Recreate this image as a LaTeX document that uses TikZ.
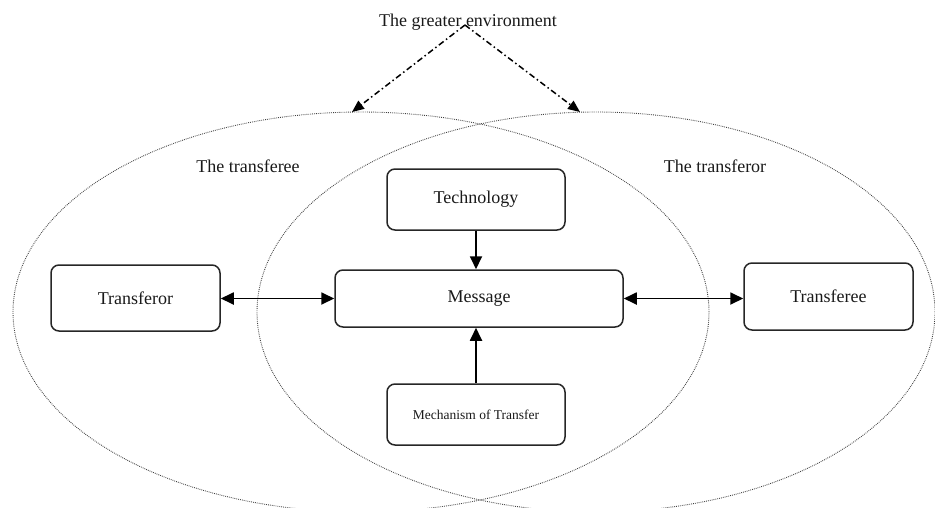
\documentclass[tikz,border=0pt]{standalone}
\usepackage{fontspec}
\setmainfont{Liberation Serif}
\usetikzlibrary{arrows.meta}
\begin{document}
\begin{tikzpicture}[x=1pt,y=-1pt,
  every node/.style={font=\fontsize{18}{20}\selectfont, text=black!90},
  box/.style={draw=black!85, line width=1.5pt, rounded corners=8pt, inner sep=0pt},
  region/.style={draw=black!75, line width=0.9pt, dash pattern=on 0.8pt off 1.1pt},
  tip/.style={},
  link/.style={draw=black, line width=1.8pt, -{Triangle[length=13pt,width=12pt]}},
  biglink/.style={draw=black, line width=1.8pt, {Triangle[length=13pt,width=12pt]}-{Triangle[length=13pt,width=12pt]}},
  envlink/.style={draw=black, line width=1.5pt, dash pattern=on 6pt off 3pt on 1.5pt off 3pt,
    -{Triangle[length=12pt,width=10pt]}}
]
\useasboundingbox (0,0) rectangle (935,507);

% the two overlapping spheres
\draw[region] (361,312) ellipse [x radius=348pt, y radius=200pt];
\draw[region] (596,312) ellipse [x radius=339pt, y radius=200pt];

% labels
\node (env) at (468,22) {The greater environment};
\node (transfereelabel) at (248,166) {The transferee};
\node (transferorlabel) at (715,166) {The transferor};

% boxes
\node[box, minimum width=169pt, minimum height=66pt] (transferor) at (135.5,298) {Transferor};
\node[box, minimum width=288pt, minimum height=57pt] (message) at (479,298.5) {Message};
\node[box, minimum width=178pt, minimum height=61pt] (technology) at (476,199.5) {Technology};
\node[box, minimum width=178pt, minimum height=61pt, font=\fontsize{13.5}{15}\selectfont] (mechanism) at (476,414.5) {Mechanism of Transfer};
\node[box, minimum width=169pt, minimum height=67pt] (transferee) at (828.5,296.5) {Transferee};

% connectors
\draw[biglink] (message.west -| transferor.east) -- (message.west);
\draw[biglink] (message.east) -- (message.east -| transferee.west);
\draw[link] (technology.south) -- (technology.south |- message.north);
\draw[link] (mechanism.north) -- (mechanism.north |- message.south);

% influence of the wider environment
\coordinate (apex) at (465,25);
\coordinate (lefttop) at (352,112);
\coordinate (righttop) at (580,112);
\draw[envlink] (apex) -- (lefttop);
\draw[envlink] (apex) -- (righttop);
\end{tikzpicture}
\end{document}
